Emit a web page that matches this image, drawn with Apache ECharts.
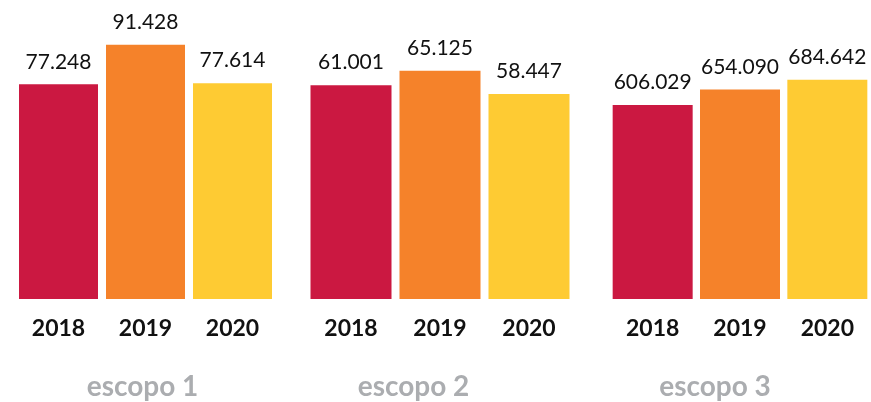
<!DOCTYPE html>
<html>
<head>
<meta charset="utf-8">
<script src="https://cdn.jsdelivr.net/npm/echarts@6/dist/echarts.min.js"></script>
<style>
  html, body { margin: 0; padding: 0; background: #fff; }
  #chart { width: 871px; height: 402px; }
</style>
</head>
<body>
<div id="chart"></div>
<script>
const years = ['2018', '2019', '2020']
const scopes = ['escopo 1', 'escopo 2', 'escopo 3']
const escopo1 = [77248, 91428, 77614]
const escopo2 = [61001, 65125, 58447]
const escopo3 = [606029, 654090, 684642]
const axisMax = [100000, 79300, 868000]

const barColors = ['#CB1841', '#F5822A', '#FECB33']
const groups = [escopo1, escopo2, escopo3]
// grid placement per group: left, width, bar width
const layout = [
  { left: 15, width: 261, bar: 79 },
  { left: 306.5, width: 267, bar: 81 },
  { left: 609, width: 264, bar: 80 }
]
const titleX = [142.5, 413.5, 715]

const fmt = v => String(v).replace(/\B(?=(\d{3})+(?!\d))/g, '.')

const chart = echarts.init(document.getElementById('chart'))

chart.setOption({
  animation: false,
  textStyle: { fontFamily: 'Lato' },
  graphic: scopes.map((s, i) => ({
    type: 'text',
    x: titleX[i],
    y: 387,
    style: {
      text: s,
      align: 'center',
      verticalAlign: 'middle',
      font: 'bold 28px Lato',
      fill: '#ABADB0'
    }
  })),
  grid: layout.map(g => ({ left: g.left, width: g.width, top: 21, bottom: 103 })),
  xAxis: layout.map((g, i) => ({
    type: 'category',
    gridIndex: i,
    data: years,
    axisLine: { show: false },
    axisTick: { show: false },
    axisLabel: { color: '#111', fontSize: 23, fontWeight: 'bold', margin: 18, fontFamily: 'Lato' }
  })),
  yAxis: layout.map((g, i) => ({
    type: 'value',
    gridIndex: i,
    min: 0,
    max: axisMax[i],
    show: false,
    splitLine: { show: false }
  })),
  series: groups.map((d, i) => ({
    type: 'bar',
    xAxisIndex: i,
    yAxisIndex: i,
    barWidth: layout[i].bar,
    data: d.map((v, j) => ({ value: v, itemStyle: { color: barColors[j] } })),
    label: {
      show: true,
      position: 'top',
      distance: 12,
      color: '#111',
      fontSize: 21,
      fontFamily: 'Lato',
      formatter: p => fmt(p.value)
    }
  }))
})
</script>
</body>
</html>
